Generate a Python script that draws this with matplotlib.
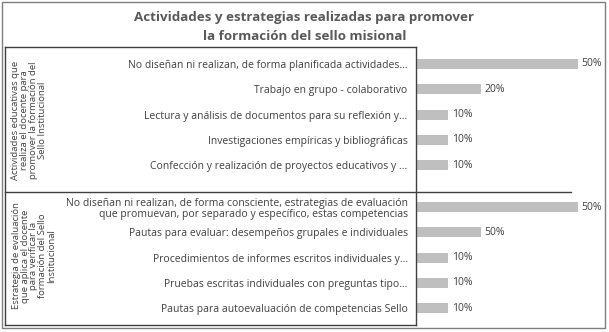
import matplotlib.pyplot as plt
from matplotlib.lines import Line2D
from matplotlib.patches import Rectangle

plt.rcParams['font.family'] = ['Open Sans', 'DejaVu Sans']

titulo = "Actividades y estrategias realizadas para promover\nla formación del sello misional"

grupos = [
    "Actividades educativas que\nrealiza el docente para\npromover la formación del\nSello Institucional",
    "Estrategia de evaluación\nque aplica el docente\npara verificar la\nformación del Sello\nInstitucional",
]

cats_1 = [
    "No diseñan ni realizan, de forma planificada actividades...",
    "Trabajo en grupo - colaborativo",
    "Lectura y análisis de documentos para su reflexión y...",
    "Investigaciones empíricas y bibliográficas",
    "Confección y realización de proyectos educativos y ...",
]
vals_1 = [50, 20, 10, 10, 10]
etiq_1 = ["50%", "20%", "10%", "10%", "10%"]

cats_2 = [
    "No diseñan ni realizan, de forma consciente, estrategias de evaluación\nque promuevan, por separado y específico, estas competencias",
    "Pautas para evaluar: desempeños grupales e individuales",
    "Procedimientos de informes escritos individuales y...",
    "Pruebas escritas individuales con preguntas tipo...",
    "Pautas para autoevaluación de competencias Sello",
]
vals_2 = [50, 20, 10, 10, 10]
etiq_2 = ["50%", "50%", "10%", "10%", "10%"]

W, H = 609, 332
fig = plt.figure(figsize=(W / 100, H / 100), dpi=100)

def fx(px):
    return px / W

def fy(py):
    return 1 - py / H

# marco exterior
fig.add_artist(Rectangle((fx(2), fy(328)), fx(603), 326 / H, fill=False,
                         edgecolor='#7f7f7f', lw=1, transform=fig.transFigure))

fig.text(0.5, fy(17), titulo.split("\n")[0], ha='center', va='center',
         fontsize=9.6, fontweight='bold', color='#595959')
fig.text(0.5, fy(37), titulo.split("\n")[1], ha='center', va='center',
         fontsize=9.6, fontweight='bold', color='#595959')

ax = fig.add_axes([fx(416), fy(325), fx(600 - 416), (325 - 47) / H])

gap = 1.65
pos_1 = [i for i in range(len(cats_1))]
pos_2 = [len(cats_1) - 1 + gap + i for i in range(len(cats_2))]

ax.barh(pos_1, vals_1, height=0.4, color='#bfbfbf')
ax.barh(pos_2, vals_2, height=0.4, color='#bfbfbf')

for p, v, t in zip(pos_1 + pos_2, vals_1 + vals_2, etiq_1 + etiq_2):
    ax.text(v + 1.1, p, t, va='center', ha='left', fontsize=7.5, color='#404040')

ax.set_yticks(pos_1 + pos_2)
ax.set_yticklabels(cats_1 + cats_2, fontsize=7.5, color='#404040',
                   linespacing=1.0)
ax.tick_params(axis='y', length=0, pad=6)
ax.set_xticks([])
ax.set_xlim(0, (600 - 416) / 32.4 * 10)
ax.set_ylim(pos_2[-1] + 0.66, -0.67)
for s in ['top', 'right', 'bottom']:
    ax.spines[s].set_visible(False)
ax.spines['left'].set_color('#404040')
ax.spines['left'].set_linewidth(1)

# caja de categorías
lc = '#404040'
fig.add_artist(Line2D([fx(5), fx(416)], [fy(47), fy(47)], color=lc, lw=1))
fig.add_artist(Line2D([fx(5), fx(416)], [fy(325), fy(325)], color=lc, lw=1))
fig.add_artist(Line2D([fx(5), fx(5)], [fy(47), fy(325)], color=lc, lw=1))
fig.add_artist(Line2D([fx(5), fx(571)], [fy(192), fy(192)], color=lc, lw=1))

fig.text(fx(29), fy(120), grupos[0], rotation=90, ha='center', va='center',
         fontsize=6.8, color='#404040', multialignment='center', linespacing=0.98)
fig.text(fx(34), fy(256), grupos[1], rotation=90, ha='center', va='center',
         fontsize=6.8, color='#404040', multialignment='center', linespacing=0.98)

fig.savefig('out.png', dpi=100)
